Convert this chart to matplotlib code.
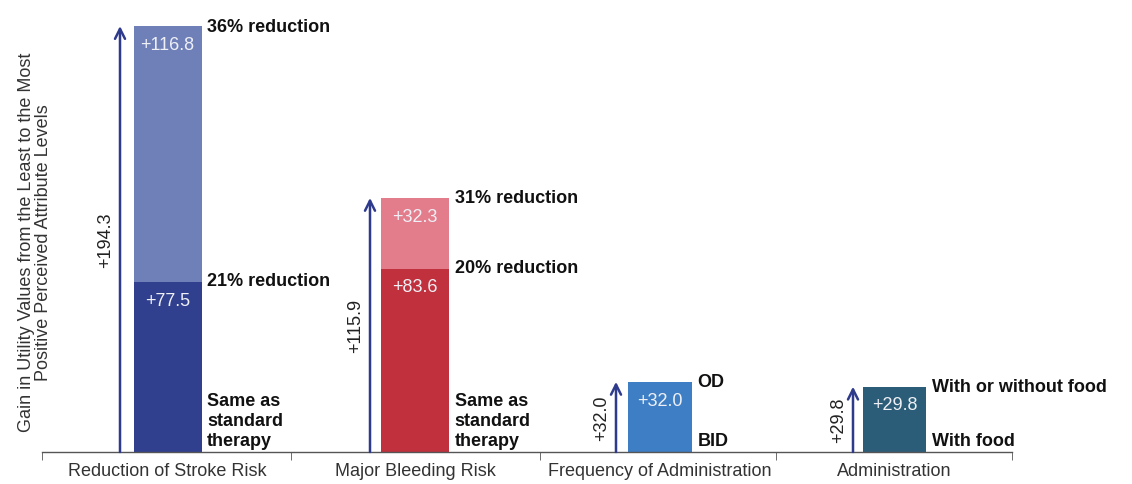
import matplotlib

matplotlib.use("Agg")
import matplotlib.pyplot as plt

plt.rcParams["font.family"] = ["Liberation Sans", "DejaVu Sans"]

# data
categories = [
    "Reduction of Stroke Risk",
    "Major Bleeding Risk",
    "Frequency of Administration",
    "Administration",
]
base_values = [77.5, 83.6, 32.0, 29.8]
upper_values = [116.8, 32.3, 0.0, 0.0]
totals = [194.3, 115.9, 32.0, 29.8]
top_labels = ["36% reduction", "31% reduction", "OD", "With or without food"]
mid_labels = ["21% reduction", "20% reduction", None, None]
bottom_labels = ["Same as\nstandard\ntherapy", "Same as\nstandard\ntherapy", "BID", "With food"]

# layout (x in pixel-like units along the axis)
bar_x = [125.5, 373, 618, 852.5]
bar_w = [68, 68, 64, 63]
arrow_x = [78, 328, 574, 811]
group_edges = [0, 249, 498, 734, 970]
base_colors = ["#303f8e", "#c0313d", "#3e7ec4", "#2c5d78"]
upper_colors = ["#6f80b8", "#e37c8b", None, None]
arrow_color = "#2e3a8c"
value_color = "#eef0f6"

fig = plt.figure(figsize=(11.32, 4.85), dpi=100)
ax = fig.add_axes([42 / 1132, 32 / 485, 970 / 1132, 443 / 485])

for i in range(len(categories)):
    ax.bar(bar_x[i], base_values[i], width=bar_w[i], color=base_colors[i], zorder=2)
    ax.annotate(f"+{base_values[i]:.1f}", (bar_x[i], base_values[i]),
                xytext=(0, -7), textcoords="offset points", ha="center", va="top",
                color=value_color, fontsize=13)
    if upper_values[i] > 0:
        ax.bar(bar_x[i], upper_values[i], bottom=base_values[i], width=bar_w[i],
               color=upper_colors[i], zorder=2)
        ax.annotate(f"+{upper_values[i]:.1f}", (bar_x[i], totals[i]),
                    xytext=(0, -7), textcoords="offset points", ha="center", va="top",
                    color=value_color, fontsize=13)

    right = bar_x[i] + bar_w[i] / 2
    ax.annotate(top_labels[i], (right, totals[i]), xytext=(4, 0),
                textcoords="offset points", ha="left", va="center",
                fontsize=13, fontweight="bold", color="#111111")
    if mid_labels[i]:
        ax.annotate(mid_labels[i], (right, base_values[i]), xytext=(4, 1),
                    textcoords="offset points", ha="left", va="center",
                    fontsize=13, fontweight="bold", color="#111111")
    ax.annotate(bottom_labels[i], (right, 0), xytext=(4, 2),
                textcoords="offset points", ha="left", va="bottom",
                fontsize=13, fontweight="bold", color="#111111", linespacing=1.25)

    # arrow with total gain
    ax.annotate("", xy=(arrow_x[i], totals[i]), xytext=(arrow_x[i], 0),
                arrowprops=dict(arrowstyle="->", color=arrow_color, lw=1.8,
                                mutation_scale=18, shrinkA=0, shrinkB=0))
    ax.annotate(f"+{totals[i]:.1f}", (arrow_x[i], totals[i] / 2), xytext=(-10, 0),
                textcoords="offset points", ha="center", va="center",
                rotation=90, fontsize=13, color="#222222")

ax.set_xlim(group_edges[0], group_edges[-1])
ax.set_ylim(0, max(totals) * 1.04)

for side in ["top", "right", "left"]:
    ax.spines[side].set_visible(False)
ax.spines["bottom"].set_color("#555555")
ax.spines["bottom"].set_linewidth(1.0)
ax.set_yticks([])

ax.set_xticks(bar_x)
ax.set_xticklabels(categories, fontsize=13, color="#333333")
ax.tick_params(axis="x", which="major", length=0, pad=7)
ax.set_xticks(group_edges, minor=True)
ax.tick_params(axis="x", which="minor", length=6, direction="out", color="#555555")

fig.text(35 / 1132, 0.5, "Gain in Utility Values from the Least to the Most\n"
         "Positive Perceived Attribute Levels",
         rotation=90, ha="center", va="center", fontsize=13, color="#333333",
         linespacing=1.05)

fig.savefig("out.png", dpi=100)
